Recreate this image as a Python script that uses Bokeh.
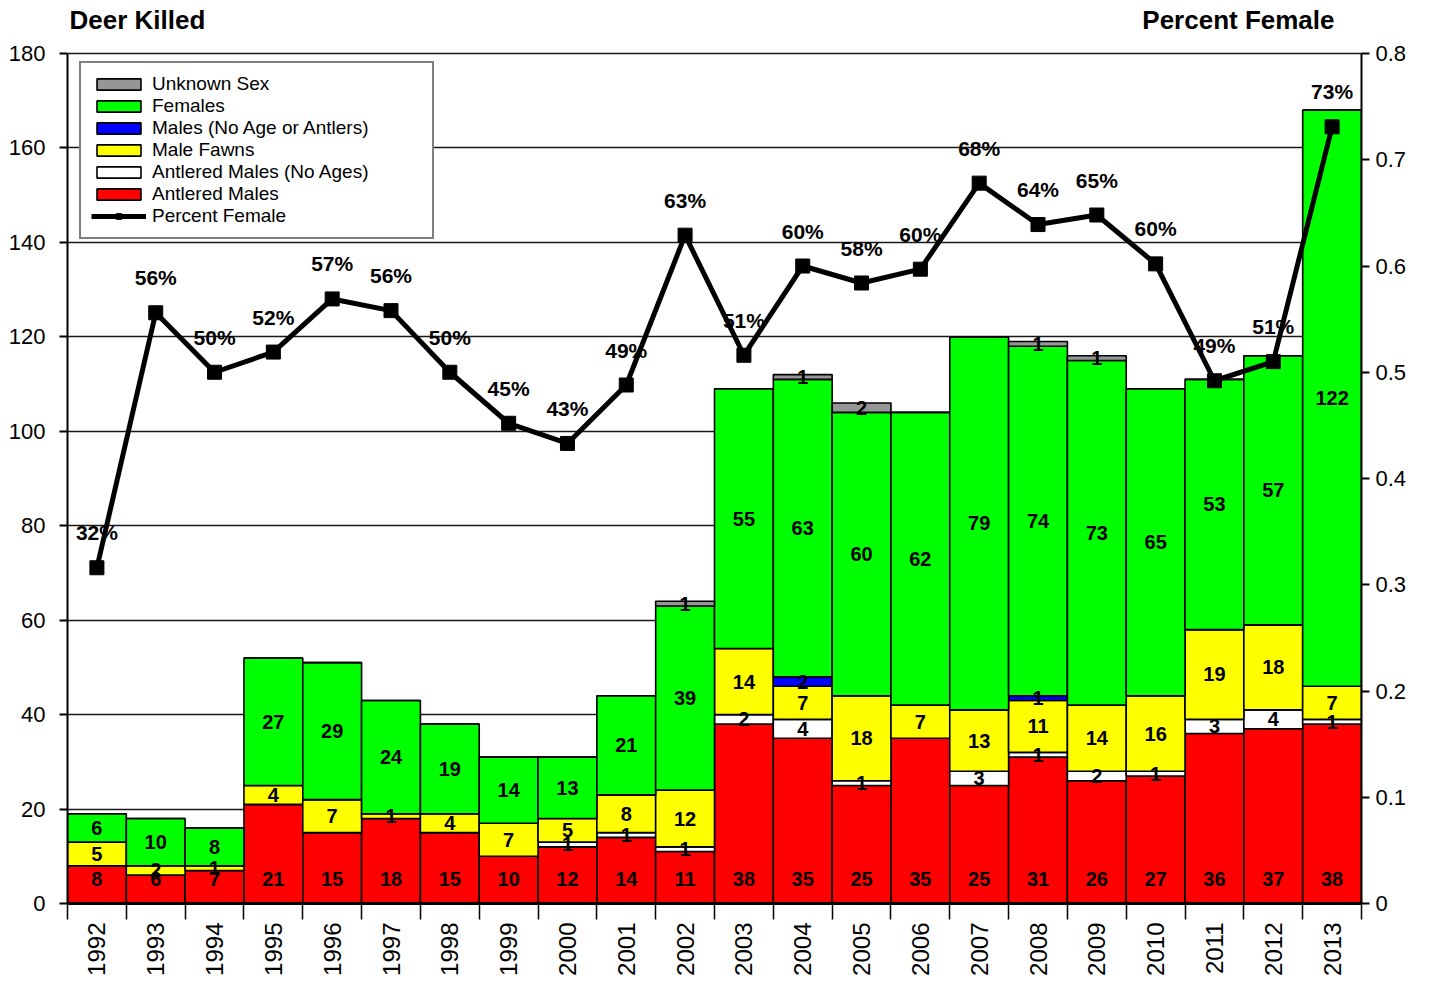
import math
from bokeh.plotting import figure
from bokeh.models import (ColumnDataSource, Range1d, LinearAxis, FixedTicker,
                          Legend, LegendItem)
from bokeh.core.properties import value
from bokeh.embed import file_html
from bokeh.resources import INLINE

# ---------------- data ----------------
years = ["1992", "1993", "1994", "1995", "1996", "1997", "1998", "1999", "2000", "2001", "2002",
         "2003", "2004", "2005", "2006", "2007", "2008", "2009", "2010", "2011", "2012", "2013"]
antlered_males = [8, 6, 7, 21, 15, 18, 15, 10, 12, 14, 11, 38, 35, 25, 35, 25, 31, 26, 27, 36, 37, 38]
antlered_no_ages = [0, 0, 0, 0, 0, 0, 0, 0, 1, 1, 1, 2, 4, 1, 0, 3, 1, 2, 1, 3, 4, 1]
male_fawns = [5, 2, 1, 4, 7, 1, 4, 7, 5, 8, 12, 14, 7, 18, 7, 13, 11, 14, 16, 19, 18, 7]
males_no_age = [0, 0, 0, 0, 0, 0, 0, 0, 0, 0, 0, 0, 2, 0, 0, 0, 1, 0, 0, 0, 0, 0]
females = [6, 10, 8, 27, 29, 24, 19, 14, 13, 21, 39, 55, 63, 60, 62, 79, 74, 73, 65, 53, 57, 122]
unknown_sex = [0, 0, 0, 0, 0, 0, 0, 0, 0, 0, 1, 0, 1, 2, 0, 0, 1, 1, 0, 0, 0, 0]
pct_female = [0.316, 0.556, 0.500, 0.519, 0.569, 0.558, 0.500, 0.452, 0.433, 0.488, 0.629,
              0.516, 0.600, 0.584, 0.597, 0.678, 0.639, 0.648, 0.602, 0.492, 0.510, 0.731]
pct_labels = ["32%", "56%", "50%", "52%", "57%", "56%", "50%", "45%", "43%", "49%", "63%",
              "51%", "60%", "58%", "60%", "68%", "64%", "65%", "60%", "49%", "51%", "73%"]
left_ticks = [0, 20, 40, 60, 80, 100, 120, 140, 160, 180]
right_ticks = [0, 0.1, 0.2, 0.3, 0.4, 0.5, 0.6, 0.7, 0.8]
right_tick_labels = ["0", "0.1", "0.2", "0.3", "0.4", "0.5", "0.6", "0.7", "0.8"]

series_names = ["Antlered Males", "Antlered Males (No Ages)", "Male Fawns",
                "Males (No Age or Antlers)", "Females", "Unknown Sex"]
series_values = [antlered_males, antlered_no_ages, male_fawns, males_no_age, females, unknown_sex]
series_colors = ["#FF0000", "#FFFFFF", "#FFFF00", "#0000FF", "#00FF00", "#969696"]

FONT = "Liberation Sans"
xs = list(range(len(years)))

# ---------------- layout ----------------
LEFT_MAX, RIGHT_MAX = 180, 0.8
PLOT_H = 850            # pixel height of the 0..180 span
FRAME_H = 898           # frame extends above 180 to host the axis titles
FRAME_W = 1294
y_top = LEFT_MAX * FRAME_H / PLOT_H
y2_top = RIGHT_MAX * FRAME_H / PLOT_H

p = figure(frame_width=FRAME_W, frame_height=FRAME_H, title=None,
           x_range=Range1d(-0.5, len(years) - 0.5), y_range=Range1d(0, y_top),
           output_backend="svg", toolbar_location=None,
           min_border_left=67, min_border_right=62, min_border_top=5, min_border_bottom=74)
p.outline_line_color = None
p.background_fill_color = "white"
p.extra_y_ranges = {"pct": Range1d(0, y2_top)}

# stacked bars
data = {"x": xs}
keys = []
for i, vals in enumerate(series_values):
    k = "s%d" % i
    data[k] = vals
    keys.append(k)
src = ColumnDataSource(data)
bars = p.vbar_stack(keys, x="x", width=1.0, source=src, fill_color=series_colors,
                    line_color="black", line_width=1.6)

# percent line
pct_src = ColumnDataSource(dict(x=xs, y=pct_female, t=pct_labels))
line_r = p.line("x", "y", source=pct_src, y_range_name="pct", line_color="black", line_width=5)
mark_r = p.scatter("x", "y", source=pct_src, y_range_name="pct", marker="square", size=14,
                   fill_color="black", line_color="black")
p.text("x", "y", text="t", source=pct_src, y_range_name="pct", y_offset=-35,
       text_align="center", text_baseline="middle", text_font=value(FONT),
       text_font_style="bold", text_font_size="21px", text_color="black")

# segment labels
lx, ly, lt = [], [], []
rx, rt = [], []
for j in xs:
    base = 0
    for i, vals in enumerate(series_values):
        v = vals[j]
        if v > 0:
            if i == 0:
                rx.append(j)
                rt.append(str(v))
            else:
                lx.append(j)
                ly.append(base + v / 2.0)
                lt.append(str(v))
        base += v
p.text(x=lx, y=ly, text=lt, text_align="center", text_baseline="middle",
       text_font=value(FONT), text_font_style="bold", text_font_size="20px", text_color="black")
p.text(x=rx, y=[0] * len(rx), text=rt, y_offset=-25, text_align="center", text_baseline="middle",
       text_font=value(FONT), text_font_style="bold", text_font_size="20px", text_color="black")

# axis titles (above the 180 line)
p.text(x=[-0.5], y=[LEFT_MAX], text=["Deer Killed"], x_offset=2, y_offset=-34,
       text_align="left", text_baseline="middle", text_font=value(FONT),
       text_font_style="bold", text_font_size="26px", text_color="black")
p.text(x=[len(years) - 0.5], y=[LEFT_MAX], text=["Percent Female"], x_offset=-27, y_offset=-34,
       text_align="right", text_baseline="middle", text_font=value(FONT),
       text_font_style="bold", text_font_size="26px", text_color="black")

# axes
p.xaxis.ticker = FixedTicker(ticks=xs, minor_ticks=[i - 0.5 for i in range(len(years) + 1)])
p.xaxis.major_label_overrides = {i: y for i, y in enumerate(years)}
p.xaxis.major_label_orientation = math.pi / 2
p.xaxis.major_tick_out = 0
p.xaxis.major_tick_in = 0
p.xaxis.minor_tick_out = 16
p.xaxis.minor_tick_in = 0
p.xaxis.minor_tick_line_color = "black"
p.xaxis.minor_tick_line_width = 1.5
p.xaxis.axis_line_width = 3
p.xaxis.axis_line_color = "black"
p.xaxis.major_label_standoff = 3
p.xaxis.major_label_text_font = FONT
p.xaxis.major_label_text_font_size = "24px"
p.xaxis.major_label_text_color = "black"

p.yaxis.ticker = FixedTicker(ticks=left_ticks, minor_ticks=[])
p.yaxis.bounds = (0, LEFT_MAX)
p.yaxis.major_tick_out = 8
p.yaxis.major_tick_in = 0
p.yaxis.major_tick_line_width = 2
p.yaxis.axis_line_width = 2
p.yaxis.axis_line_color = "black"
p.yaxis.major_label_standoff = 14
p.yaxis.major_label_text_font = FONT
p.yaxis.major_label_text_font_size = "22px"
p.yaxis.major_label_text_color = "black"

ax_r = LinearAxis(y_range_name="pct", ticker=FixedTicker(ticks=right_ticks, minor_ticks=[]),
                  bounds=(0, RIGHT_MAX))
ax_r.major_label_overrides = {t: s for t, s in zip(right_ticks, right_tick_labels)}
ax_r.major_tick_out = 8
ax_r.major_tick_in = 0
ax_r.major_tick_line_width = 2
ax_r.axis_line_width = 2
ax_r.axis_line_color = "black"
ax_r.major_label_standoff = 6
ax_r.major_label_text_font = FONT
ax_r.major_label_text_font_size = "22px"
ax_r.major_label_text_color = "black"
p.add_layout(ax_r, "right")

p.xgrid.grid_line_color = None
p.ygrid.ticker = FixedTicker(ticks=left_ticks)
p.ygrid.grid_line_color = "black"
p.ygrid.grid_line_width = 1.3
p.ygrid.grid_line_alpha = 0.9

# legend
items = [LegendItem(label=series_names[i], renderers=[bars[i]]) for i in [5, 4, 3, 2, 1, 0]]
items.append(LegendItem(label="Percent Female", renderers=[line_r, mark_r]))
legend = Legend(items=items, location=(12, 664), padding=10, spacing=0,
                glyph_width=55, glyph_height=14, label_height=18, label_width=270,
                label_standoff=6, label_text_font=FONT, label_text_font_size="19px",
                label_text_line_height=1.0,
                label_text_color="black", border_line_color="black", border_line_width=2,
                background_fill_color="white", background_fill_alpha=1.0)
p.add_layout(legend)

open("out.html", "w").write(file_html(p, INLINE))
